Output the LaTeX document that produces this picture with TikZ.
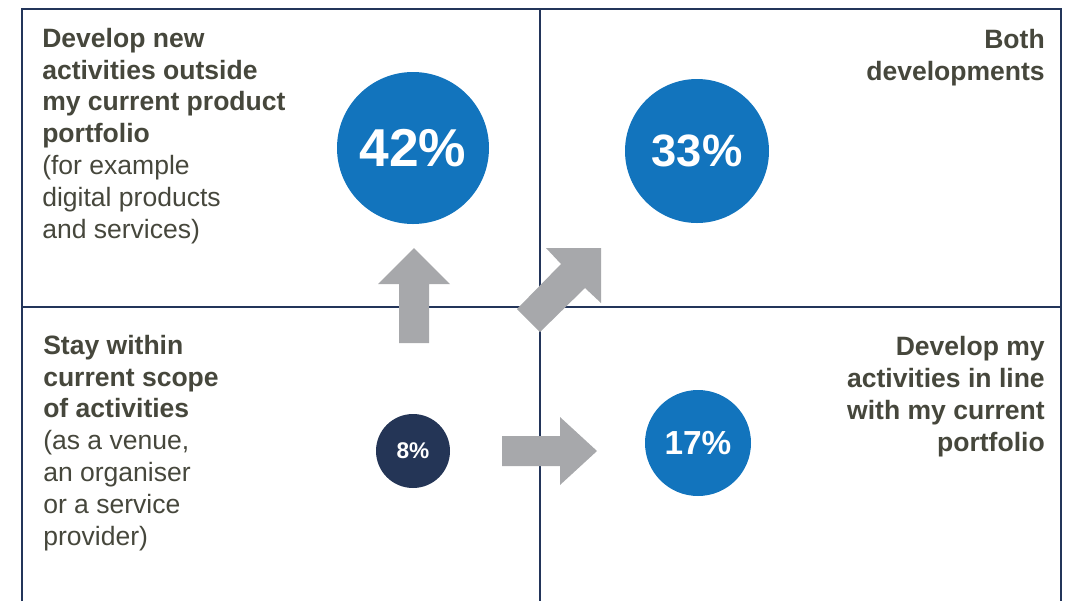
\documentclass[tikz,border=0pt]{standalone}
\usepackage{fontspec}
\setmainfont{Liberation Sans}
\definecolor{framenavy}{RGB}{35,53,90}
\definecolor{dotblue}{RGB}{18,116,189}
\definecolor{dotnavy}{RGB}{36,53,86}
\definecolor{arrowgray}{RGB}{167,168,171}
\definecolor{labelgray}{RGB}{70,71,60}
\begin{document}
\begin{tikzpicture}[x=0.75pt,y=-0.75pt,
    quadline/.style={draw=framenavy,line width=1.9pt},
    blockarrow/.style={fill=arrowgray},
    bubble/.style={circle,fill=dotblue,text=white,inner sep=0pt,font=\bfseries},
    quadtext/.style={text=labelgray,inner sep=0pt,font=\fontsize{19.9}{23.85}\selectfont}]
      \useasboundingbox (0,0) rectangle (1065,601);
      % frame of the four fields
      \draw[quadline] (22,601) -- (22,9) -- (1061,9) -- (1061,601);
      \draw[quadline] (540,9) -- (540,601);
      \draw[quadline] (22,307) -- (1061,307);

      % arrows
      \fill[blockarrow] (399,343) -- (399,284) -- (378,284) -- (414,248)
        -- (450,284) -- (429,284) -- (429,343) -- cycle;
      \fill[blockarrow] (517,309) -- (561,264) -- (546,248) -- (601,248)
        -- (601,303) -- (585,288) -- (540,332) -- cycle;
      \fill[blockarrow] (502,436) -- (560,436) -- (560,417) -- (597,451)
        -- (560,485) -- (560,466) -- (502,466) -- cycle;

      % shares
      \node[bubble,minimum size=114pt,font=\bfseries\fontsize{40}{40}\selectfont] (p42) at (413,148) {42\%};
      \node[bubble,minimum size=108pt,font=\bfseries\fontsize{34}{34}\selectfont] (p33) at (697,151) {33\%};
      \node[bubble,minimum size=79.5pt,font=\bfseries\fontsize{25}{25}\selectfont] (p17) at (698,443) {17\%};
      \node[bubble,fill=dotnavy,minimum size=55.5pt,font=\bfseries\fontsize{17}{17}\selectfont] (p8) at (413,451) {8\%};

      % field labels (placed at the baseline of their last line)
      \node[quadtext,align=left,anchor=base west] (newtxt) at (42,238)
        {\textbf{Develop new}\\\textbf{activities outside}\\\textbf{my current product}\\\textbf{portfolio}\\(for example\\digital products\\and services)};
      \node[quadtext,align=right,anchor=base east] (bothtxt) at (1045,80)
        {\textbf{Both}\\\textbf{developments}};
      \node[quadtext,align=left,anchor=base west] (staytxt) at (43,545)
        {\textbf{Stay within}\\\textbf{current scope}\\\textbf{of activities}\\(as a venue,\\an organiser\\or a service\\provider)};
      \node[quadtext,align=right,anchor=base east] (linetxt) at (1045,451)
        {\textbf{Develop my}\\\textbf{activities in line}\\\textbf{with my current}\\\textbf{portfolio}};
\end{tikzpicture}
\end{document}
